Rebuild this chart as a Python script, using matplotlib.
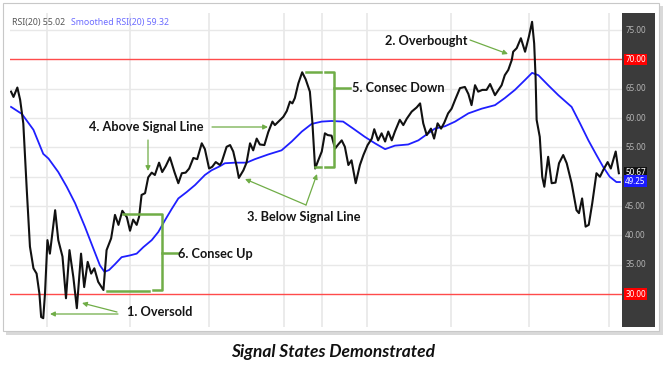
import matplotlib
matplotlib.use("Agg")
import matplotlib.pyplot as plt
from matplotlib.patches import Rectangle

# RSI(20) (x = trading day, y = RSI)
rsi_day = [0.0, 0.7, 1.8, 2.6, 3.5, 4.5, 5.4, 6.4, 7.3, 8.1, 8.6, 9.2, 9.7, 10.4, 11.1,
           12.6, 13.5, 14.7, 15.7, 16.7, 17.8, 18.8, 20.0, 20.9, 21.9, 22.9, 23.8, 24.9,
           26.4, 27.3, 28.6, 29.7, 30.7, 31.8, 33.1, 34.0, 34.9, 35.9, 36.6, 37.3, 38.3,
           39.2, 40.2, 41.1, 42.3, 43.2, 44.2, 45.4, 46.7, 47.8, 48.8, 49.9, 50.9, 52.1,
           53.2, 54.5, 55.4, 56.6, 57.5, 58.5, 59.7, 60.2, 61.6, 62.6, 63.5, 64.5, 65.1,
           66.4, 67.3, 68.3, 69.2, 70.2, 71.1, 72.4, 73.5, 74.7, 75.4, 76.6, 77.8, 78.8,
           79.7, 80.4, 81.1, 82.1, 83.2, 84.2, 85.4, 86.1, 86.9, 87.8, 88.8, 89.7, 90.5,
           91.6, 92.6, 93.5, 94.5, 95.4, 96.4, 97.3, 98.5, 99.7, 100.7, 101.9, 103.1,
           103.8, 104.9, 105.9, 106.9, 107.8, 108.8, 109.7, 111.1, 112.1, 113.1, 114.5,
           115.9, 116.9, 117.8, 118.8, 120.0, 120.9, 121.9, 122.9, 123.8, 124.9, 125.9,
           126.9, 128.3, 129.7, 130.7, 131.6, 132.6, 133.5, 134.7, 135.9, 136.9, 138.3,
           139.2, 140.2, 141.1, 142.1, 143.1, 143.5, 144.5, 145.7, 146.9, 148.0, 148.9,
           149.5, 149.9, 150.2, 151.1, 151.8, 152.4, 153.5, 154.5, 155.6, 156.6, 157.8,
           158.8, 160.2, 161.6, 162.3, 163.2, 164.2, 165.1, 166.1, 167.3, 168.3, 169.2,
           170.5, 171.4, 172.8, 173.7]
rsi_val = [64.5, 63.6, 65.2, 63.1, 59.1, 47.7, 38.1, 34.4, 33.5, 30.1, 26.1, 25.9, 30.1,
           39.2, 36.9, 44.3, 39.2, 36.4, 29.3, 37.5, 32.9, 27.6, 36.9, 31.2, 35.5, 33.5,
           34.4, 32.1, 30.7, 37.5, 39.5, 43.5, 41.8, 44.2, 43.1, 40.8, 42.7, 41.8, 43.2,
           46.9, 47.2, 49.9, 50.7, 50.3, 52.4, 50.8, 51.8, 53.3, 50.8, 48.9, 50.6, 50.7,
           51.4, 53.2, 53.0, 55.7, 54.7, 51.4, 51.7, 52.5, 52.0, 52.5, 55.1, 55.4, 54.3,
           51.7, 49.8, 51.1, 52.4, 55.7, 54.5, 56.5, 55.5, 55.4, 57.6, 59.4, 58.8, 59.5,
           60.2, 61.2, 62.8, 62.5, 63.4, 65.9, 67.8, 66.6, 64.5, 59.4, 51.4, 52.8, 54.3,
           57.4, 57.1, 57.0, 54.8, 55.5, 56.2, 55.1, 52.0, 52.8, 48.9, 52.0, 53.7, 55.4,
           56.5, 58.1, 56.2, 57.4, 56.0, 57.7, 56.2, 57.7, 59.7, 58.8, 59.9, 61.1, 61.8,
           62.5, 59.1, 57.1, 58.2, 56.5, 59.1, 58.2, 59.2, 60.8, 61.6, 63.1, 65.1, 65.3,
           64.1, 62.2, 65.6, 64.5, 64.8, 64.8, 65.8, 63.9, 64.7, 65.6, 67.3, 68.2, 69.9,
           71.3, 71.9, 73.6, 71.3, 73.9, 76.4, 72.7, 67.0, 59.7, 56.8, 50.0, 48.3, 53.4,
           48.9, 49.0, 52.3, 53.7, 52.3, 48.9, 44.3, 43.8, 46.3, 41.5, 41.8, 45.5, 50.6,
           50.0, 51.1, 52.5, 51.4, 54.3, 50.6]

# Smoothed RSI(20) signal line
sig_day = [0.0, 3.1, 6.4, 9.2, 10.7, 13.5, 15.9, 18.3, 21.1, 23.5, 25.4, 26.7, 28.0, 29.7,
           31.6, 34.0, 35.9, 37.8, 40.2, 42.1, 44.0, 45.9, 47.8, 50.2, 52.6, 55.4, 57.3,
           59.7, 61.1, 64.0, 67.3, 69.7, 73.5, 77.3, 80.2, 83.1, 85.9, 88.8, 91.6, 94.9,
           97.8, 101.1, 104.0, 106.9, 109.7, 113.5, 116.4, 119.7, 121.1, 124.0, 126.9,
           130.7, 134.5, 138.3, 141.1, 144.0, 146.9, 148.9, 150.7, 153.5, 156.4, 160.2,
           162.6, 165.0, 167.3, 169.2, 171.1, 173.0, 174.0]
sig_val = [61.9, 60.7, 58.0, 53.9, 53.1, 50.8, 48.3, 45.5, 41.5, 37.8, 34.9, 33.8, 34.1,
           35.1, 36.3, 36.6, 36.9, 38.0, 39.2, 40.6, 42.6, 44.5, 46.3, 47.4, 48.6, 50.3,
           51.1, 51.8, 52.3, 52.4, 52.4, 53.0, 53.8, 54.5, 56.0, 57.7, 59.0, 59.4, 59.5,
           59.4, 58.2, 56.8, 55.7, 54.7, 55.3, 55.5, 56.2, 57.6, 58.2, 58.6, 59.4, 60.8,
           61.6, 62.2, 63.4, 64.8, 66.5, 67.7, 67.3, 65.6, 63.9, 61.9, 59.1, 56.2, 53.7,
           51.7, 50.0, 49.1, 49.1]

month_days = [10.3, 34.0, 56.6, 78.0, 88.9, 101.7, 125.7, 148.0, 170.9]
grid_levels = [35, 40, 45, 50, 55, 60, 65, 75]
axis_labels = [35, 40, 45, 55, 60, 65, 75]
overbought, oversold = 70, 30
last_rsi, last_sig = 50.67, 49.25

W, H = 664, 365
green = '#70ad47'
txt_font = ['Lato', 'DejaVu Sans']

fig = plt.figure(figsize=(W / 100, H / 100), dpi=100)
fig.patch.set_facecolor('white')


def box(x0, y0, x1, y1):
    # pixel box (top-left origin) -> figure fraction rect
    return [x0 / W, 1 - y1 / H, (x1 - x0) / W, (y1 - y0) / H]


# card with a soft shadow
fig.add_artist(Rectangle((6 / W, 1 - 335 / H), 657 / W, 329 / H, transform=fig.transFigure,
                         facecolor='#d9d9d9', edgecolor='none', zorder=0))
fig.add_artist(Rectangle((3 / W, 1 - 331 / H), 656 / W, 328 / H, transform=fig.transFigure,
                         facecolor='white', edgecolor='#c8c8c8', lw=0.8, zorder=0))

ax = fig.add_axes(box(10, 13, 622, 327))
ax.set_xlim(-0.3, 174.6)
ax.set_ylim(24.4, 77.9)
for d in month_days:
    ax.axvline(d, color='#e8e8e8', lw=1.2, zorder=1)
for lv in grid_levels:
    ax.axhline(lv, color='#e8e8e8', lw=1.0, zorder=1)
ax.axhline(overbought, color='#ff4b4b', lw=1.0, zorder=2)
ax.axhline(oversold, color='#ff4b4b', lw=1.0, zorder=2)
ax.plot(sig_day, sig_val, color='#1f1fff', lw=1.3, zorder=3)
ax.plot(rsi_day, rsi_val, color='#111111', lw=1.5, zorder=4)
ax.set_xticks([])
ax.set_yticks([])
for s in ax.spines.values():
    s.set_visible(False)

ax.text(0.004, 0.985, 'RSI(20) 55.02', transform=ax.transAxes, ha='left', va='top',
        fontsize=6.3, color='#555555', family='Noto Sans')
ax.text(0.1, 0.985, 'Smoothed RSI(20) 59.32', transform=ax.transAxes, ha='left', va='top',
        fontsize=6.3, color='#6b6bff', family='Noto Sans')

# dark price-axis panel on the right
pan = fig.add_axes(box(622, 13, 655, 327))
pan.set_facecolor('#3b3b3b')
pan.set_xlim(0, 1)
pan.set_ylim(ax.get_ylim())
pan.set_xticks([])
pan.set_yticks([])
for s in pan.spines.values():
    s.set_visible(False)
for lv in axis_labels:
    pan.text(0.1, lv, '%.2f' % lv, color='#b4b4b4', fontsize=5.8, va='center', ha='left',
             family='Noto Sans')
for lv, fc in [(overbought, '#ff0000'), (oversold, '#ff0000'), (last_rsi, '#111111'),
               (last_sig, '#1a1aff')]:
    pan.text(0.1, lv, '%.2f' % lv, color='white', fontsize=5.8, va='center', ha='left',
             family='Noto Sans', bbox=dict(boxstyle='square,pad=0.15', fc=fc, ec='none'))

# overlay in pixel units for the call-outs
ov = fig.add_axes([0, 0, 1, 1], facecolor='none')
ov.set_xlim(0, W)
ov.set_ylim(H, 0)
ov.axis('off')

arrow = dict(arrowstyle='-|>', color=green, lw=0.9, mutation_scale=7, shrinkA=0, shrinkB=0)


def callout(x0, y0, x1, y1):
    ov.annotate('', xy=(x1, y1), xytext=(x0, y0), arrowprops=arrow)


def label(x, y, s):
    ov.text(x, y, s, fontsize=9.2, fontweight='bold', color='#151515', va='center',
            ha='left', family=txt_font)


label(385, 41, '2. Overbought')
callout(470, 40, 508, 54)

label(352, 88, '5. Consec Down')
ov.plot([306, 321], [72, 72], color=green, lw=1.8)
ov.plot([325, 334, 334, 325], [72, 72, 167, 167], color=green, lw=1.8)
ov.plot([315, 321], [167, 167], color=green, lw=1.8)
ov.plot([334, 350], [88, 88], color=green, lw=1.8)

label(89, 127, '4. Above Signal Line')
callout(212, 127, 268, 127)
callout(148, 140, 148, 171)

label(247, 217, '3. Below Signal Line')
callout(306, 205, 245, 179)
callout(306, 205, 317, 174)

label(178, 254, '6. Consec Up')
ov.plot([123, 162, 162, 153], [214, 214, 290, 290], color=green, lw=1.8)
ov.plot([107, 149], [291, 291], color=green, lw=1.8)
ov.plot([162, 178], [253, 253], color=green, lw=1.8)

label(127, 312, '1. Oversold')
callout(118, 314, 50, 314)
callout(117, 312, 82, 303)

fig.text(333 / W, 1 - 352 / H, 'Signal States Demonstrated', ha='center', va='center',
         fontsize=12.5, fontweight='bold', fontstyle='italic', family=txt_font, color='#111111')

fig.savefig('out.png', dpi=100)
